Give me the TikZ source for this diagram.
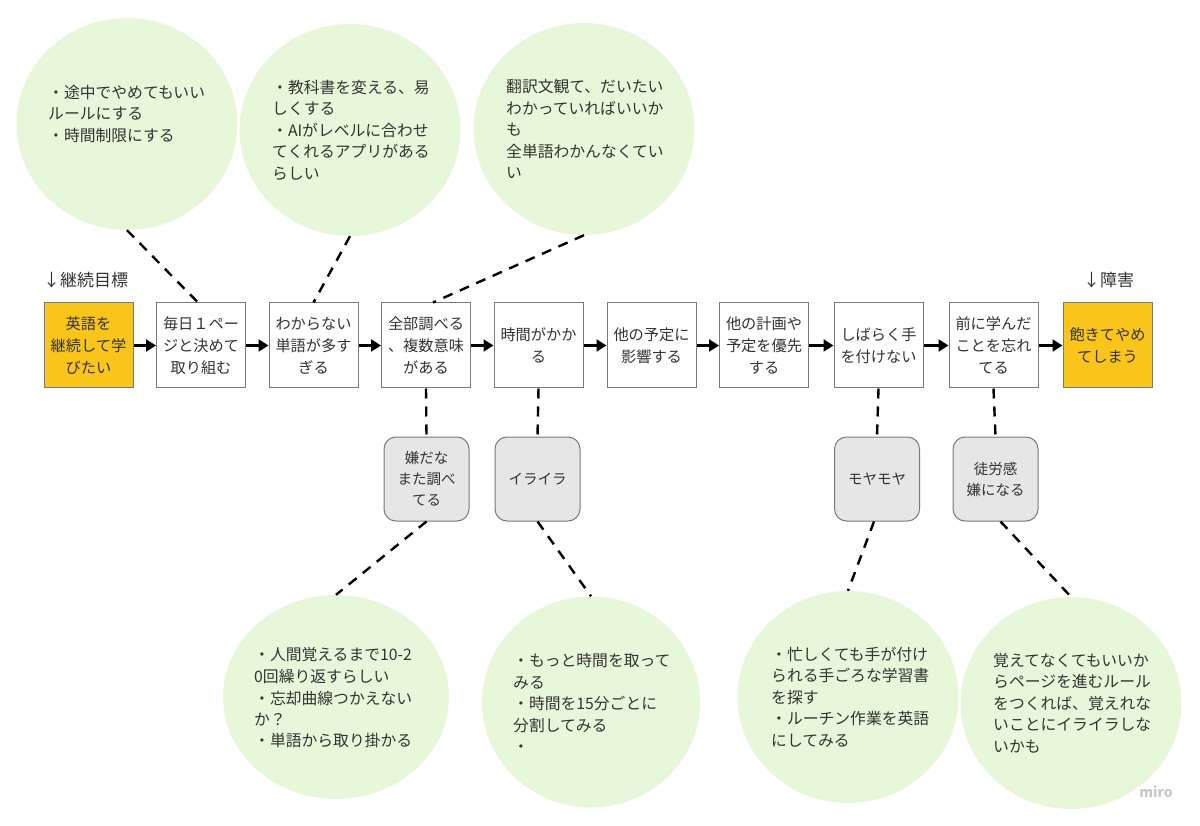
\documentclass[tikz,border=0pt]{standalone}
\usepackage{fontspec}
\setmainfont{Noto Sans CJK JP}
\usetikzlibrary{shapes.geometric,arrows.meta}
\definecolor{boxyellow}{HTML}{F9C51A}
\definecolor{circgreen}{HTML}{E7F8DA}
\definecolor{graybox}{HTML}{E6E6E6}
\definecolor{edgegray}{HTML}{7A7A7A}
\definecolor{txt}{HTML}{333333}
\definecolor{miro}{HTML}{C8C8C8}
\begin{document}
\begin{tikzpicture}[x=1pt,y=-1pt,
 stepbox/.style={draw=edgegray, line width=1pt, fill=white, minimum width=89pt, minimum height=85pt, inner sep=1pt, align=center, font=\fontsize{15.2}{22}\selectfont, text=txt},
 goalbox/.style={stepbox, fill=boxyellow},
 feelbox/.style={draw=edgegray, line width=1pt, fill=graybox, rounded corners=12pt, minimum width=85pt, minimum height=84pt, inner sep=1pt, align=center, font=\fontsize{14.5}{21}\selectfont, text=txt},
 idea/.style={ellipse, fill=circgreen, minimum width=221pt, minimum height=212pt, inner sep=0pt},
 ideatext/.style={anchor=west, align=left, font=\fontsize{15.8}{21.5}\selectfont, text=txt, inner sep=0pt},
 flow/.style={line width=2.2pt, -{Triangle[length=10pt,width=12pt]}},
 link/.style={line width=2.4pt, dash pattern=on 10pt off 8pt},
 headlabel/.style={anchor=west, font=\fontsize{17}{20}\selectfont, text=txt, inner sep=0pt},
]
\useasboundingbox (0,0) rectangle (1200,826);

% idea circles
\node[idea] (c1) at (127,124) {};
\node[idea] (c2) at (350,130) {};
\node[idea] (c3) at (584,129) {};
\node[idea, minimum width=226pt, minimum height=204pt] (c4) at (336,697) {};
\node[idea, minimum width=218pt, minimum height=211pt] (c5) at (591,702) {};
\node[idea] (c6) at (848,697) {};
\node[idea] (c7) at (1071,703) {};

\node[ideatext] (t1) at (48,114) {・途中でやめてもいい\\ルールにする\\・時間制限にする};
\node[ideatext] (t2) at (272,130) {・教科書を変える、易\\しくする\\・AIがレベルに合わせ\\てくれるアプリがある\\らしい};
\node[ideatext] (t3) at (506,129) {翻訳文観て、だいたい\\わかっていればいいか\\も\\全単語わかんなくてい\\い};
\node[ideatext] (t4) at (254,698) {・人間覚えるまで10-2\\0回繰り返すらしい\\・忘却曲線つかえない\\か？\\・単語から取り掛かる};
\node[ideatext] (t5) at (513,703) {・もっと時間を取って\\みる\\・時間を15分ごとに\\分割してみる\\・};
\node[ideatext] (t6) at (771,697) {・忙しくても手が付け\\られる手ごろな学習書\\を探す\\・ルーチン作業を英語\\にしてみる};
\node[ideatext] (t7) at (993,703) {覚えてなくてもいいか\\らページを進むルール\\をつくれば、覚えれな\\いことにイライラしな\\いかも};

% head labels
\node[headlabel] (l1) at (43,280) {↓継続目標};
\node[headlabel] (l2) at (1083,280) {↓障害};

% main flow boxes
\node[goalbox] (b1) at (88.5,345.5) {英語を\\継続して学\\びたい};
\node[stepbox] (b2) at (201,345.5) {毎日１ペー\\ジと決めて\\取り組む};
\node[stepbox] (b3) at (313.5,345.5) {わからない\\単語が多す\\ぎる};
\node[stepbox] (b4) at (426,345.5) {全部調べる\\、複数意味\\がある};
\node[stepbox] (b5) at (538.5,345.5) {時間がかか\\る};
\node[stepbox] (b6) at (651.5,345.5) {他の予定に\\影響する};
\node[stepbox] (b7) at (764,345.5) {他の計画や\\予定を優先\\する};
\node[stepbox] (b8) at (878.5,345.5) {しばらく手\\を付けない};
\node[stepbox] (b9) at (993.5,345.5) {前に学んだ\\ことを忘れ\\てる};
\node[goalbox] (b10) at (1107.5,345.5) {飽きてやめ\\てしまう};

% feeling boxes
\node[feelbox] (g1) at (426.5,479) {嫌だな\\また調べ\\てる};
\node[feelbox] (g2) at (537.5,479) {イライラ};
\node[feelbox] (g3) at (877,479) {モヤモヤ};
\node[feelbox] (g4) at (995.5,479) {徒労感\\嫌になる};

% flow arrows
\draw[flow] (b1) -- (b2);
\draw[flow] (b2) -- (b3);
\draw[flow] (b3) -- (b4);
\draw[flow] (b4) -- (b5);
\draw[flow] (b5) -- (b6);
\draw[flow] (b6) -- (b7);
\draw[flow] (b7) -- (b8);
\draw[flow] (b8) -- (b9);
\draw[flow] (b9) -- (b10);

% dashed links
\draw[link] (c1.south) -- ([xshift=-3pt]b2.north);
\draw[link] (c2.south) -- (b3.north);
\draw[link] (c3.south) -- ([xshift=7pt]b4.north);
\draw[link] (b4.south) -- (g1.north);
\draw[link] (b5.south) -- (g2.north);
\draw[link] (b8.south) -- (g3.north);
\draw[link] (b9.south) -- (g4.north);
\draw[link] (g1.south) -- (c4.north);
\draw[link] (g2.south) -- (c5.north);
\draw[link] ([xshift=-3pt]g3.south) -- (c6.north);
\draw[link] ([xshift=5pt]g4.south) -- (c7.north);

\node[anchor=east, text=miro, font=\fontsize{14}{16}\selectfont\bfseries, inner sep=0pt] (wm) at (1173,792) {miro};
\end{tikzpicture}
\end{document}
